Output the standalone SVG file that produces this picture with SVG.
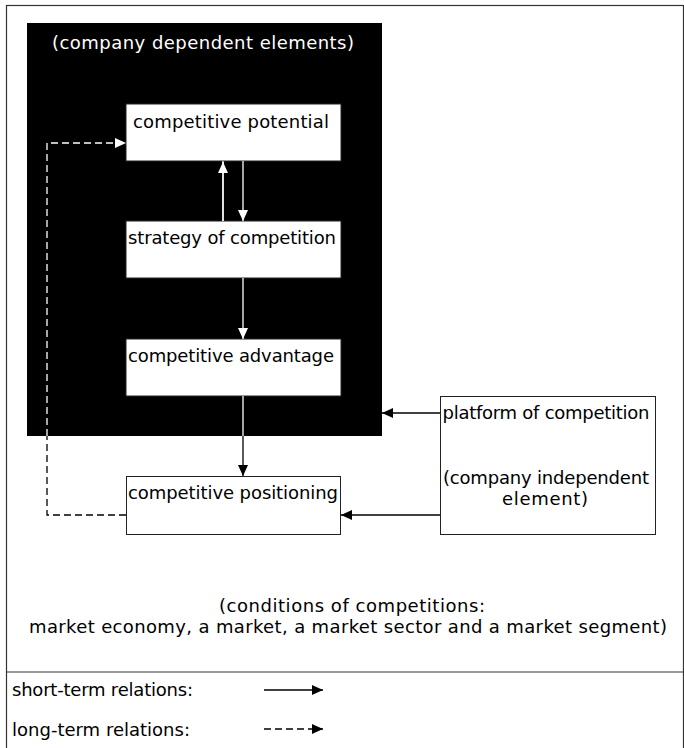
<svg xmlns="http://www.w3.org/2000/svg" width="684" height="748" viewBox="0 0 684 748">
<style>
text{font-family:"DejaVu Sans","Liberation Sans",sans-serif;font-size:18px;fill:#000}
.w{fill:#fff}
.box{fill:#fff;stroke:#222;stroke-width:1}
.ln{fill:none;stroke:#000;stroke-width:1.3}
.lw{fill:none;stroke:#fff;stroke-width:1.3}
.dash{stroke-dasharray:7,4}
</style>
<defs>
<marker id="ab" markerWidth="12" markerHeight="12" refX="11" refY="5" orient="auto" markerUnits="userSpaceOnUse"><path d="M0,0 L11,5 L0,10 Z" fill="#000"/></marker>
<marker id="aw" markerWidth="12" markerHeight="12" refX="11" refY="5" orient="auto" markerUnits="userSpaceOnUse"><path d="M0,0 L11,5 L0,10 Z" fill="#fff"/></marker>
</defs>
<rect x="0" y="0" width="684" height="748" fill="#fff"/>
<rect x="6.5" y="5.5" width="677" height="750" fill="none" stroke="#333" stroke-width="1.2"/>
<line x1="6" y1="672" x2="684" y2="672" stroke="#333" stroke-width="1.2"/>

<g id="company-dependent">
<rect x="27" y="23" width="355" height="413" fill="#000"/>
<text class="w" x="203" y="49" text-anchor="middle" textLength="302">(company dependent elements)</text>
</g>

<g id="competitive-potential">
<rect class="box" x="126" y="104" width="215" height="57"/>
<text x="231" y="128" text-anchor="middle" textLength="196">competitive potential</text>
</g>
<g id="strategy-of-competition">
<rect class="box" x="126" y="221" width="215" height="57"/>
<text x="232" y="244" text-anchor="middle" textLength="208">strategy of competition</text>
</g>
<g id="competitive-advantage">
<rect class="box" x="126" y="339" width="215" height="57"/>
<text x="231" y="362" text-anchor="middle" textLength="206">competitive advantage</text>
</g>
<g id="competitive-positioning">
<rect class="box" x="126.5" y="476.5" width="214" height="58"/>
<text x="233" y="499" text-anchor="middle" textLength="210">competitive positioning</text>
</g>
<g id="platform-of-competition">
<rect class="box" x="440.5" y="396.5" width="215" height="138"/>
<text x="546" y="419" text-anchor="middle" textLength="207">platform of competition</text>
<text x="546" y="484" text-anchor="middle" textLength="206">(company independent</text>
<text x="545" y="505" text-anchor="middle" textLength="86">element)</text>
</g>

<g id="connectors">
<line class="lw" x1="223" y1="221" x2="223" y2="161"/>
<line class="lw" x1="223" y1="221" x2="223" y2="162" marker-end="url(#aw)"/>
<line class="lw" x1="243" y1="161" x2="243" y2="221" marker-end="url(#aw)"/>
<line class="lw" x1="243" y1="278" x2="243" y2="339" marker-end="url(#aw)"/>
<line class="lw" x1="243" y1="396" x2="243" y2="436"/>
<line class="ln" x1="243" y1="436" x2="243" y2="476" marker-end="url(#ab)"/>
<line class="ln" x1="440" y1="413" x2="382" y2="413" marker-end="url(#ab)"/>
<line class="ln" x1="440" y1="515" x2="341" y2="515" marker-end="url(#ab)"/>
<polyline class="ln dash" points="126,515 47,515 47,436"/>
<polyline class="lw dash" points="47,436 47,143 126,143" marker-end="url(#aw)"/>
</g>

<g id="conditions">
<text x="352" y="612" text-anchor="middle" textLength="266">(conditions of competitions:</text>
<text x="348" y="633" text-anchor="middle" textLength="638">market economy, a market, a market sector and a market segment)</text>
</g>

<g id="legend">
<text x="12" y="696" textLength="181">short-term relations:</text>
<line class="ln" x1="264" y1="690" x2="323" y2="690" marker-end="url(#ab)"/>
<text x="12" y="736" textLength="178">long-term relations:</text>
<line class="ln dash" x1="264" y1="729" x2="323" y2="729" marker-end="url(#ab)"/>
</g>
</svg>
